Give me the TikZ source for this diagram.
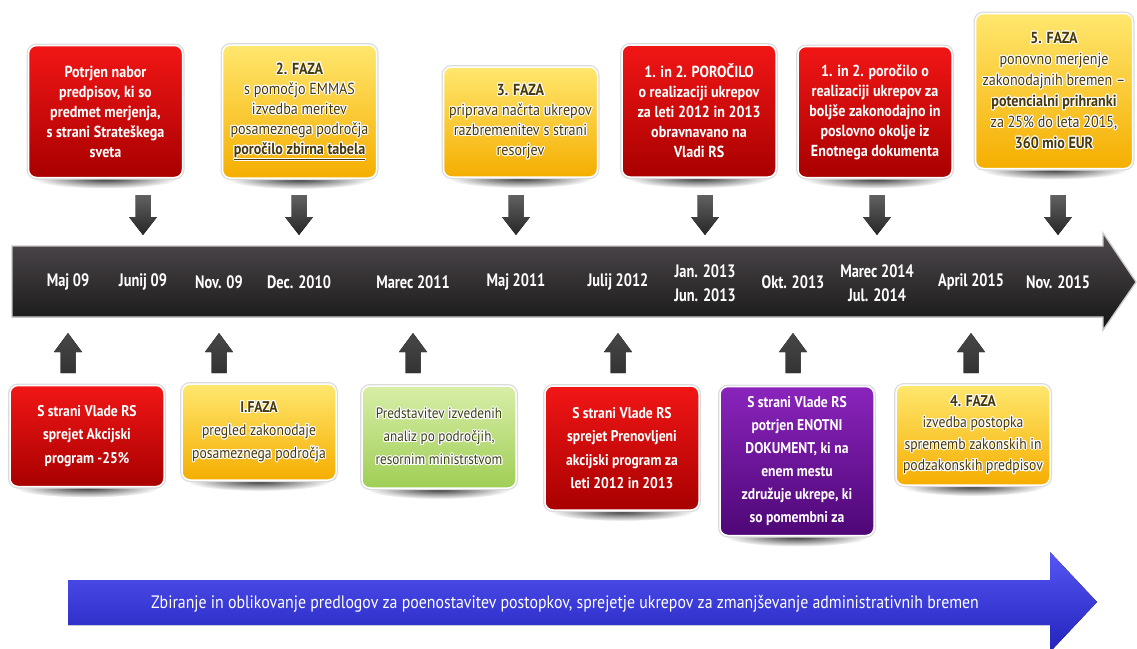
\documentclass[tikz,border=0pt]{standalone}
\usepackage{fontspec}
\setmainfont{PT Sans}[FakeStretch=0.88]
\newfontfamily\tickfont{PT Sans}[FakeStretch=0.8]
\usepackage{contour}
\contourlength{1pt}
\contournumber{16}
\usetikzlibrary{fadings,calc}

\definecolor{redtop}{HTML}{F21616}
\definecolor{redbot}{HTML}{A80000}
\definecolor{yeltop}{HTML}{FFE76E}
\definecolor{yelbot}{HTML}{F5AE00}
\definecolor{grntop}{HTML}{D8EEA8}
\definecolor{grnbot}{HTML}{9FCE55}
\definecolor{purtop}{HTML}{8A24BC}
\definecolor{purbot}{HTML}{4E0776}
\definecolor{ytext}{HTML}{463808}
\definecolor{gtext}{HTML}{3A4218}
\definecolor{bartop}{HTML}{504A4E}
\definecolor{barbot}{HTML}{161616}
\definecolor{bluetop}{HTML}{5656F4}
\definecolor{bluebot}{HTML}{2222BC}

% light text with a white halo
\newcommand\gl[1]{\contour{white}{#1}}

\tikzfading[name=softspot, inner color=transparent!0, outer color=transparent!100]
\pgfdeclarelayer{bg}
\pgfsetlayers{bg,main}

\begin{document}
\begin{tikzpicture}[x=1pt,y=-1pt,
  fs/.code={\def\cfs{#1}}, ls/.code={\def\cls{#1}},
  fs=16, ls=20,
  card/.style={rounded corners=8pt, draw=white, line width=1.5pt, align=center,
    inner sep=0pt, outer sep=0pt, minimum width=154pt,
    preaction={draw=black!14, line width=4pt}},
  redcard/.style={card, top color=redtop, bottom color=redbot, text=white,
    font=\bfseries\fontsize{\cfs}{\cls}\selectfont},
  yelcard/.style={card, top color=yeltop, bottom color=yelbot, text=ytext,
    font=\fontsize{\cfs}{\cls}\selectfont},
  grncard/.style={card, top color=grntop, bottom color=grnbot, text=gtext,
    font=\fontsize{\cfs}{\cls}\selectfont},
  purcard/.style={card, top color=purtop, bottom color=purbot, text=white,
    font=\bfseries\fontsize{\cfs}{\cls}\selectfont},
  tick/.style={text=white, align=center, inner sep=0pt,
    font=\tickfont\bfseries\fontsize{18}{24}\selectfont},
  downarr/.pic={\fill[top color=black!62, bottom color=black!85]
    (-7.5,-20) -- (7.5,-20) -- (7.5,2) -- (14,2) -- (0,20) -- (-14,2) -- (-7.5,2) -- cycle;},
  uparr/.pic={\fill[top color=black!72, bottom color=black!80]
    (-7.5,20) -- (7.5,20) -- (7.5,-1) -- (14,-1) -- (0,-20) -- (-14,-1) -- (-7.5,-1) -- cycle;},
  spot/.style={black, opacity=0.8, path fading=softspot}
]
\useasboundingbox (0,0) rectangle (1137,648);

% time line
\fill[top color=bartop, bottom color=barbot, draw=black!22, line width=1.2pt]
  (12,246) -- (1103,246) -- (1103,233) -- (1136,282) -- (1103,330) -- (1103,317) -- (12,317) -- cycle;

\node[tick] (l1)  at (68,282)  {Maj 09};
\node[tick] (l2)  at (143,282) {Junij 09};
\node[tick] (l3)  at (219,282) {Nov. 09};
\node[tick] (l4)  at (299,282) {Dec. 2010};
\node[tick] (l5)  at (413,282) {Marec 2011};
\node[tick] (l6)  at (516,282) {Maj 2011};
\node[tick] (l7)  at (618,282) {Julij 2012};
\node[tick] (l8)  at (705,283) {Jan. 2013\\Jun. 2013};
\node[tick] (l9)  at (793,282) {Okt. 2013};
\node[tick] (l10) at (877,283) {Marec 2014\\Jul. 2014};
\node[tick] (l11) at (971,282) {April 2015};
\node[tick] (l12) at (1058,282) {Nov. 2015};

% upper cards
\node[redcard, minimum height=132pt] (t1) at (105.5,111.5)
  {Potrjen nabor\\predpisov, ki so\\predmet merjenja,\\s strani Strateškega\\sveta};
\node[yelcard, minimum height=133pt] (t2) at (299.5,111.5)
  {\gl{\textbf{2. FAZA}}\\\gl{s pomočjo EMMAS}\\\gl{izvedba meritev}\\\gl{posameznega področja}\\\gl{\textbf{\underline{poročilo zbirna tabela}}}};
\node[yelcard, minimum height=110pt] (t3) at (520.5,122)
  {\gl{\textbf{3. FAZA}}\\\gl{priprava načrta ukrepov}\\\gl{razbremenitev s strani}\\\gl{resorjev}};
\node[redcard, minimum height=132pt] (t4) at (699,111)
  {1. in 2. POROČILO\\o realizaciji ukrepov\\za leti 2012 in 2013\\obravnavano na\\Vladi RS};
\node[redcard, minimum height=131pt] (t5) at (875,112)
  {1. in 2. poročilo o\\realizaciji ukrepov za\\boljše zakonodajno in\\poslovno okolje iz\\Enotnega dokumenta};
\node[yelcard, ls=21, minimum height=155pt, minimum width=157pt] (t6) at (1054,91)
  {\gl{\textbf{5. FAZA}}\\\gl{ponovno merjenje}\\\gl{zakonodajnih bremen --}\\\gl{\textbf{potencialni prihranki}}\\\gl{za 25\% do leta 2015,}\\\gl{\textbf{360 mio EUR}}};

% lower cards
\node[redcard, fs=15.5, ls=23.5, minimum height=101pt] (b1) at (87,436)
  {S strani Vlade RS\\sprejet Akcijski\\program -25\%};
\node[yelcard, fs=15.5, ls=23, minimum height=96pt] (b2) at (259,432)
  {\gl{\textbf{I.FAZA}}\\\gl{pregled zakonodaje}\\\gl{posameznega področja}};
\node[grncard, fs=15, ls=23, minimum height=102pt] (b3) at (439,437)
  {\gl{Predstavitev izvedenih}\\\gl{analiz po področjih,}\\\gl{resornim ministrstvom}};
\node[redcard, fs=15.5, ls=23.5, minimum height=124pt] (b4) at (622,448)
  {S strani Vlade RS\\sprejet Prenovljeni\\akcijski program za\\leti 2012 in 2013};
\node[purcard, fs=15.5, ls=23, minimum height=149pt] (b5) at (797,461)
  {S strani Vlade RS\\potrjen ENOTNI\\DOKUMENT, ki na\\enem mestu\\združuje ukrepe, ki\\so pomembni za};
\node[yelcard, fs=15.5, ls=21.5, minimum height=100pt] (b6) at (973,435)
  {\gl{\textbf{4. FAZA}}\\\gl{izvedba postopka}\\\gl{sprememb zakonskih in}\\\gl{podzakonskih predpisov}};

% white ground and soft shadows below the cards
\begin{pgfonlayer}{bg}
  \fill[white] (0,0) rectangle (1137,648);
  \foreach \c in {t1,t2,t3,t4,t5,t6,b1,b2,b3,b4,b5,b6}
    \fill[spot] let \p1=(\c.south west), \p2=(\c.south east) in
      ($(\c.south)+(0,1)$) ellipse [x radius={0.47*(\x2-\x1)}, y radius=10pt];
\end{pgfonlayer}

% block arrows between cards and time line
\foreach \t in {l2,l4,l6,l8,l10,l12}
  \pic at (\t |- 0,215) {downarr};
\foreach \t in {l1,l3,l5,l7,l9,l11}
  \pic at (\t |- 0,353) {uparr};

% lower band
\fill[top color=bluetop, bottom color=bluebot]
  (68,580) -- (1050,580) -- (1050,552) -- (1097,602) -- (1050,652) -- (1050,625) -- (68,625) -- cycle;
\node[text=white, font=\fontsize{18}{22}\selectfont, inner sep=0pt] (band) at (565,604)
  {Zbiranje in oblikovanje predlogov za poenostavitev postopkov, sprejetje ukrepov za zmanjševanje administrativnih bremen};
\end{tikzpicture}
\end{document}
